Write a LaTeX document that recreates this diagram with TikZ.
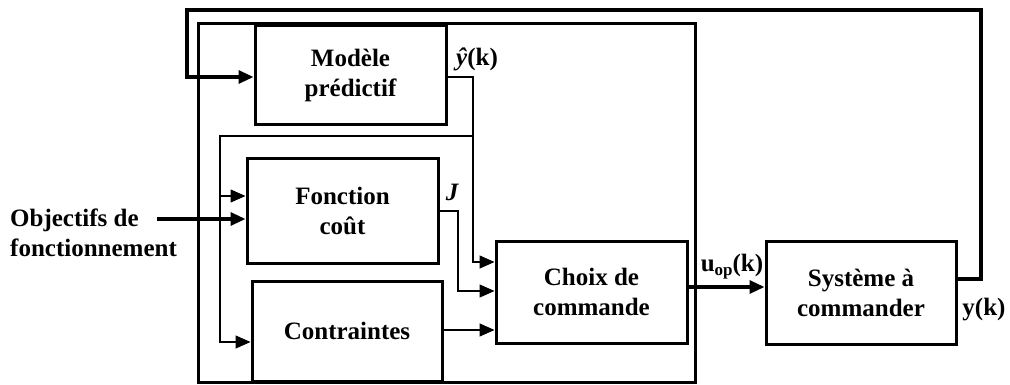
\documentclass[tikz,border=0pt]{standalone}
\usepackage{fontspec}
\setmainfont{Liberation Serif}
\usetikzlibrary{arrows.meta,calc}
\begin{document}
\begin{tikzpicture}[x=1pt,y=-1pt,
  box/.style={draw,line width=3pt,inner sep=0pt,align=center,
    font=\fontsize{25}{30}\selectfont\bfseries},
  thinline/.style={line width=1.3pt},
  thickline/.style={line width=3.2pt},
  tip/.style={-{Triangle[length=15pt,width=13pt]}},
  lbl/.style={inner sep=0pt,font=\fontsize{25}{30}\selectfont\bfseries}]
\useasboundingbox (0,0) rectangle (1010,385);
% outer frame
\node[draw,line width=3pt,minimum width=497pt,minimum height=358pt,inner sep=0pt] (big) at (446.5,203) {};
% blocks
\node[box,minimum width=191pt,minimum height=99pt] (mod) at (350.5,75.5) {Modèle\\prédictif};
\node[box,minimum width=191pt,minimum height=104pt] (fon) at (342.5,211) {Fonction\\coût};
\node[box,minimum width=190pt,minimum height=100pt] (con) at (347,331) {Contraintes};
\node[box,minimum width=191pt,minimum height=102pt] (cho) at (591.5,292) {Choix de\\commande};
\node[box,minimum width=190pt,minimum height=103pt] (sys) at (861,292.5) {Système à\\commander};
% coordinates
\coordinate (fbR) at (981,279);
\coordinate (fbTR) at (981,10);
\coordinate (fbTL) at (187,10);
\coordinate (fbL) at (187,77);
\coordinate (yh) at (473,77);
\coordinate (yhb) at (473,136);
\coordinate (br) at (220,136);
\coordinate (obj) at (157,219);
\coordinate (jx) at (458,211);
% feedback
\draw[thickline,tip] (sys.east |- fbR) -- (fbR) -- (fbTR) -- (fbTL) -- (fbL) -- (mod.west |- fbL);
% y hat
\draw[thinline,tip] (mod.east |- yh) -- (yh) -- (473,262) -- (cho.west |- 0,262);
\draw[thinline,tip] (yhb) -- (br) -- (220,342) -- (con.west |- 0,342);
\draw[thinline,tip] (220,196) -- (fon.west |- 0,196);
% objectives
\draw[thickline,tip] (obj) -- (fon.west |- obj);
% J
\draw[thinline,tip] (fon.east |- jx) -- (jx) -- (458,291) -- (cho.west |- 0,291);
% contraintes
\draw[thinline,tip] (con.east |- 0,330) -- (cho.west |- 0,330);
% u_op
\draw[thickline,tip] (cho.east |- 0,287) -- (sys.west |- 0,287);
% labels
\node[lbl] (lyh) at (477,59) {\itshape ŷ\upshape(k)};
\node[lbl] (lj) at (452,192) {\itshape J};
\node[lbl] (lu) at (732,267) {u\raisebox{-0.35ex}{\fontsize{17}{17}\selectfont op}(k)};
\node[lbl] (ly) at (984,310) {y(k)};
\node[lbl,align=left,anchor=west,font=\fontsize{25}{30}\selectfont\bfseries] (lobj) at (10,233) {Objectifs de\\fonctionnement};
\end{tikzpicture}
\end{document}
